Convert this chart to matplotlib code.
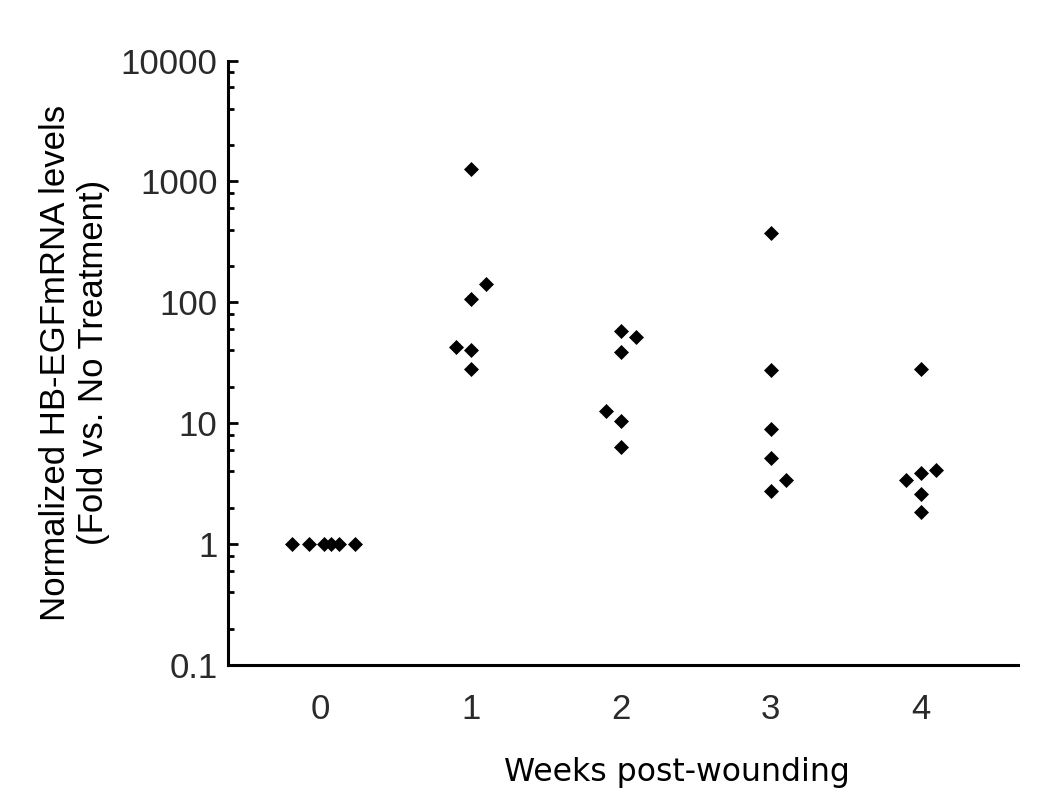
import matplotlib
matplotlib.use("Agg")
import matplotlib.pyplot as plt
from matplotlib.ticker import LogLocator, FixedLocator, FixedFormatter, NullFormatter

# Data (fold change, log scale)
weeks = [0, 1, 2, 3, 4]
week_labels = ["0", "1", "2", "3", "4"]

x_week0 = [-0.19, -0.08, 0.02, 0.07, 0.12, 0.23]
y_week0 = [1, 1, 1, 1, 1, 1]

x_week1 = [1.0, 1.1, 1.0, 0.9, 1.0, 1.0]
y_week1 = [1260, 141, 106, 43, 40, 28]

x_week2 = [2.0, 2.1, 2.0, 1.9, 2.0, 2.0]
y_week2 = [57.6, 52, 38.6, 12.6, 10.4, 6.3]

x_week3 = [3.0, 3.0, 3.0, 3.0, 3.1, 3.0]
y_week3 = [372, 27.4, 8.9, 5.2, 3.38, 2.74]

x_week4 = [4.0, 4.1, 4.0, 3.9, 4.0, 4.0]
y_week4 = [28, 4.09, 3.86, 3.38, 2.59, 1.84]

y_ticks = [0.1, 1, 10, 100, 1000, 10000]
y_tick_labels = ["0.1", "1", "10", "100", "1000", "10000"]

fig = plt.figure(figsize=(10.5, 8.08), dpi=100)
ax = fig.add_axes([0.217, 0.177, 0.7525, 0.748])

xs = [x_week0, x_week1, x_week2, x_week3, x_week4]
ys = [y_week0, y_week1, y_week2, y_week3, y_week4]
for xv, yv in zip(xs, ys):
    ax.plot(xv, yv, linestyle="none", marker="D", markersize=6.8,
            color="black", markeredgewidth=0.5)

ax.set_yscale("log")
ax.set_ylim(0.1, 10000)
ax.set_xlim(-0.62, 4.65)

ax.yaxis.set_major_locator(FixedLocator(y_ticks))
ax.yaxis.set_major_formatter(FixedFormatter(y_tick_labels))
ax.yaxis.set_minor_locator(LogLocator(base=10, subs=[2, 4, 6, 8]))
ax.yaxis.set_minor_formatter(NullFormatter())

ax.set_xticks(weeks)
ax.set_xticklabels(week_labels)

for s in ["top", "right"]:
    ax.spines[s].set_visible(False)
for s in ["left", "bottom"]:
    ax.spines[s].set_linewidth(2.2)

ax.tick_params(axis="y", which="major", direction="in", length=7, width=2,
               pad=7.5, labelsize=25, labelcolor="#2a2a2a")
ax.tick_params(axis="y", which="minor", direction="in", length=4, width=2)
ax.tick_params(axis="x", length=0, pad=20, labelsize=25, labelcolor="#2a2a2a")

for lab in ax.get_xticklabels() + ax.get_yticklabels():
    lab.set_family("Liberation Sans")

ax.set_xlabel("Weeks post-wounding", fontsize=22.7, family="DejaVu Sans")
ax.xaxis.set_label_coords(0.568, -0.152)

ax.set_ylabel("Normalized HB-EGFmRNA levels\n(Fold vs. No Treatment)",
              fontsize=25, family="Liberation Sans", linespacing=1.2)
ax.yaxis.set_label_coords(-0.149, 0.5)

fig.savefig("out.png", dpi=100)
